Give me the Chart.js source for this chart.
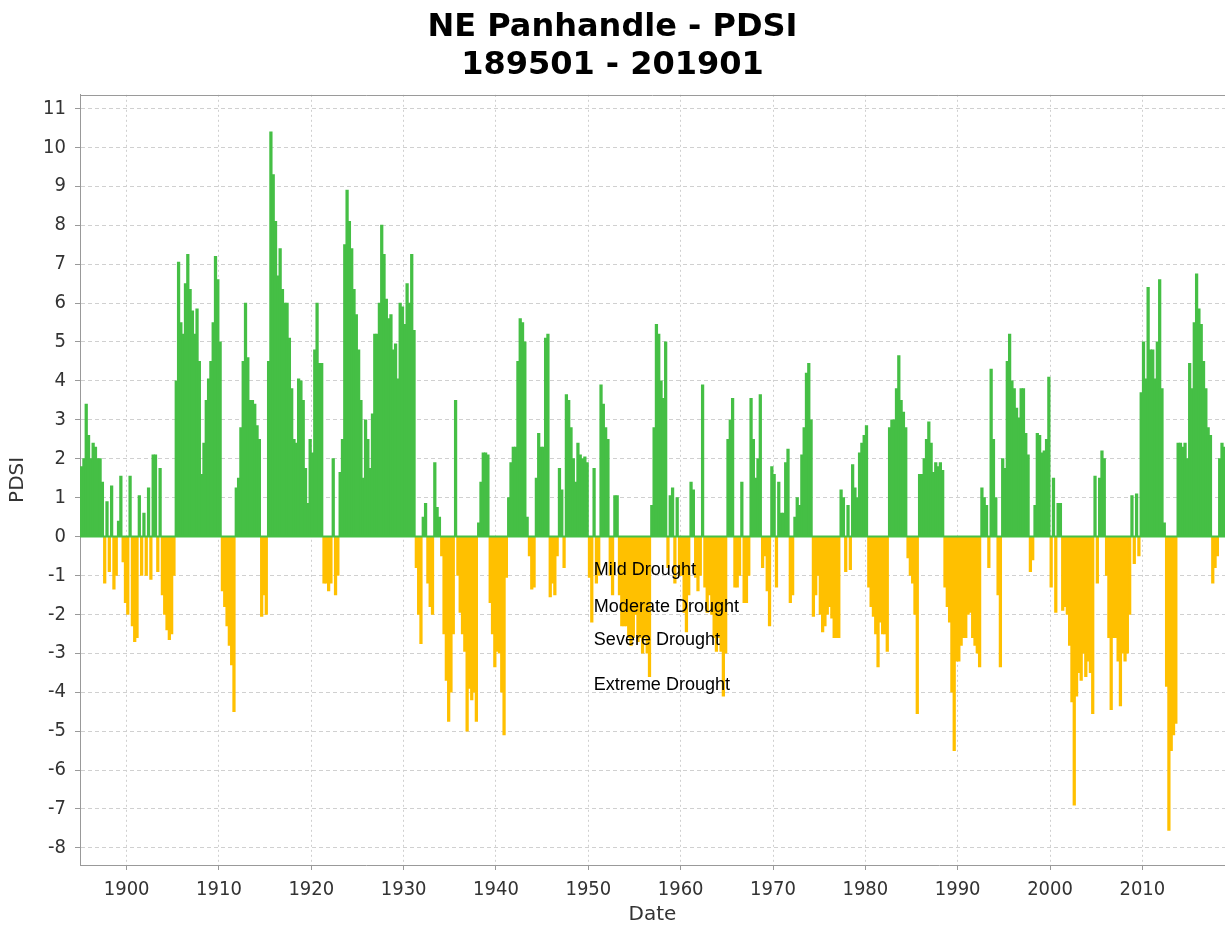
<!DOCTYPE html>
<html>
<head>
<meta charset="utf-8">
<title>NE Panhandle - PDSI</title>
<script src="https://cdn.jsdelivr.net/npm/chart.js@4.4.1/dist/chart.umd.min.js"></script>
<style>
  html, body { margin: 0; padding: 0; background: #fff; }
  #wrap { width: 1225px; height: 930px; }
</style>
</head>
<body>
<div id="wrap"><canvas id="pdsi" width="1225" height="930"></canvas></div>
<script>
const TITLE = ["NE Panhandle - PDSI", "189501 - 201901"];
const START_YEAR = 1895;
const STEP = 0.25; // one reading per quarter

// PDSI, quarterly, one array per decade
const pdsi1890s = [
  1.8, 2.0, 3.4, 2.6,   2.0, 2.4, 2.3, 2.0,   2.0, 1.4, -1.2, 0.9,
  -0.9, 1.3, -1.35, -1.0,   0.4, 1.55, -0.65, -1.7
];
const pdsi1900s = [
  -2.0, 1.55, -2.3, -2.7,   -2.6, 1.05, -1.0, 0.6,   -1.0, 1.25, -1.1, 2.1,
  2.1, -0.9, 1.75, -1.5,   -2.0, -2.4, -2.65, -2.5,   -1.0, 4.0, 7.05, 5.5,
  5.2, 6.5, 7.25, 6.35,   5.8, 5.2, 5.85, 4.5,   1.6, 2.4, 3.5, 4.05,
  4.5, 5.5, 7.2, 6.6
];
const pdsi1910s = [
  5.0, -1.4, -1.8, -2.3,   -2.8, -3.3, -4.5, 1.25,   1.5, 2.8, 4.5, 6.0,
  4.6, 3.5, 3.5, 3.4,   2.85, 2.5, -2.05, -1.5,   -2.0, 4.5, 10.4, 9.3,
  8.1, 6.7, 7.4, 6.35,   6.0, 6.0, 5.1, 3.8,   2.5, 2.4, 4.05, 4.0,
  3.5, 1.75, 0.85, 2.5
];
const pdsi1920s = [
  2.15, 4.8, 6.0, 4.45,   4.45, -1.2, -1.2, -1.4,   -1.2, 2.0, -1.5, -1.0,
  1.65, 2.5, 7.5, 8.9,   8.1, 7.4, 6.35, 5.7,   4.8, 3.5, 1.5, 3.0,
  2.5, 1.75, 3.15, 5.2,   5.2, 6.0, 8.0, 7.25,   6.1, 5.6, 5.7, 4.8,
  4.95, 4.05, 6.0, 5.9
];
const pdsi1930s = [
  5.45, 6.5, 6.0, 7.25,   5.3, -0.8, -2.0, -2.75,   0.5, 0.85, -1.2, -1.8,
  -2.0, 1.9, 0.75, 0.5,   -0.5, -2.5, -3.7, -4.75,   -4.0, -2.5, 3.5, -1.0,
  -1.95, -2.5, -2.95, -5.0,   -3.9, -4.2, -4.0, -4.75,   0.35, 1.4, 2.15, 2.15,
  2.1, -1.7, -2.5, -3.35
];
const pdsi1940s = [
  -2.95, -3.0, -4.0, -5.1,   -1.05, 1.0, 1.9, 2.3,   2.3, 4.5, 5.6, 5.5,
  5.0, 0.5, -0.5, -1.35,   -1.3, 1.5, 2.65, 2.3,   2.3, 5.1, 5.2, -1.55,
  -1.2, -1.5, -0.5, 1.75,   1.2, -0.8, 3.65, 3.5,   2.8, 2.0, 1.4, 2.4,
  2.1, 2.0, 2.05, 1.9
];
const pdsi1950s = [
  -1.05, -2.2, 1.75, -1.2,   -1.0, 3.9, 3.4, 2.8,   2.5, -1.0, -1.5, 1.05,
  1.05, -1.5, -2.3, -2.3,   -2.3, -2.6, -2.8, -2.6,   -2.0, -2.7, -2.6, -3.0,
  -2.6, -3.0, -3.6, 0.8,   2.8, 5.45, 5.2, 4.0,   3.55, 5.0, -0.8, 1.05,
  1.25, -1.2, 1.0, -1.0
];
const pdsi1960s = [
  -1.0, -1.95, -2.45, -1.5,   1.4, 1.2, -1.05, -1.4,   -1.0, 3.9, -1.3, -1.95,
  -1.5, -2.0, -2.6, -2.95,   -2.6, -2.95, -4.1, -3.0,   2.5, 3.0, 3.55, -1.3,
  -1.3, -1.0, 1.4, -1.7,   -1.7, -1.0, 3.55, 2.5,   1.5, 2.0, 3.65, -0.8,
  -0.5, -1.4, -2.3, 1.8
];
const pdsi1970s = [
  1.6, -1.3, 1.4, 0.6,   0.6, 1.9, 2.25, -1.7,   -1.5, 0.5, 1.0, 0.8,
  2.1, 2.8, 4.2, 4.45,   3.0, -2.05, -1.5, -1.0,   -2.0, -2.45, -2.3, -2.0,
  -1.8, -2.1, -2.6, -2.6,   -2.6, 1.2, 1.0, -0.9,   0.8, -0.85, 1.85, 1.25,
  1.0, 2.15, 2.4, 2.6
];
const pdsi1980s = [
  2.85, -1.3, -1.8, -2.05,   -2.5, -3.35, -2.2, -2.5,   -2.5, -2.95, 2.8, 3.0,
  3.0, 3.8, 4.65, 3.5,   3.2, 2.8, -0.55, -1.0,   -1.2, -2.0, -4.55, 1.6,
  1.6, 2.0, 2.5, 2.95,   2.4, 1.65, 1.9, 1.8,   1.9, 1.7, -1.3, -1.8,
  -2.2, -4.0, -5.5, -3.2
];
const pdsi1990s = [
  -3.2, -2.8, -2.6, -2.6,   -2.0, -1.95, -2.6, -2.8,   -3.0, -3.35, 1.25, 1.0,
  0.8, -0.8, 4.3, 2.5,   1.0, -1.5, -3.35, 2.0,   1.75, 4.5, 5.2, 4.0,
  3.8, 3.3, 3.05, 3.8,   3.8, 2.65, 2.1, -0.9,   -0.6, 0.8, 2.65, 2.6,
  2.15, 2.2, 2.5, 4.1
];
const pdsi2000s = [
  -1.3, 1.5, -1.95, 0.85,   0.85, -1.9, -1.8, -2.0,   -2.8, -4.25, -6.9, -4.1,
  -3.5, -3.7, -3.0, -3.6,   -3.2, -3.5, -4.55, 1.55,   -1.2, 1.5, 2.2, 2.0,
  -1.0, -2.6, -4.45, -2.6,   -2.6, -3.2, -4.35, -3.0,   -3.2, -3.0, -2.0, 1.05,
  -0.7, 1.1, -0.5, 3.7
];
const pdsi2010s = [
  5.0, 4.05, 6.4, 4.8,   4.8, 4.05, 5.0, 6.6,   3.8, 0.35, -3.85, -7.55,
  -5.5, -5.1, -4.8, 2.4,   2.4, 2.3, 2.4, 2.0,   4.45, 3.8, 5.5, 6.75,
  5.85, 5.45, 4.5, 3.8,   2.8, 2.6, -1.2, -0.8,   -0.5, 2.0, 2.4, 2.3,
  2.4
];

const droughtLabels = ["Mild Drought", "Moderate Drought", "Severe Drought", "Extreme Drought"];
const droughtLevels = [-0.98, -1.93, -2.79, -3.94];
const droughtLabelYear = 1950.6;

const GREEN = "#45bf45";
const YELLOW = "#ffc000";

const values = [].concat(
  pdsi1890s, pdsi1900s, pdsi1910s, pdsi1920s, pdsi1930s, pdsi1940s,
  pdsi1950s, pdsi1960s, pdsi1970s, pdsi1980s, pdsi1990s, pdsi2000s, pdsi2010s
);
const points = values.map((v, i) => ({ x: START_YEAR + i * STEP + STEP / 2, y: v }));

const tickFont = { family: "'DejaVu Sans Condensed', 'DejaVu Sans', sans-serif", size: 20 };
const axisTitleFont = { family: "'DejaVu Sans', sans-serif", size: 20 };

// zero line, top frame and the drought class labels
const overlay = {
  id: "overlay",
  afterDatasetsDraw(chart) {
    const { ctx, chartArea: a, scales: { x, y } } = chart;
    ctx.save();
    const y0 = y.getPixelForValue(0);
    ctx.strokeStyle = GREEN;
    ctx.lineWidth = 2;
    ctx.beginPath();
    ctx.moveTo(a.left, y0);
    ctx.lineTo(a.right, y0);
    ctx.stroke();

    ctx.strokeStyle = "#9a9a9a";
    ctx.lineWidth = 1;
    ctx.beginPath();
    ctx.moveTo(a.left, Math.round(a.top) + 0.5);
    ctx.lineTo(a.right, Math.round(a.top) + 0.5);
    ctx.stroke();

    ctx.fillStyle = "#000";
    ctx.font = '18px "Liberation Sans", Arial, sans-serif';
    ctx.textAlign = "left";
    ctx.textBaseline = "alphabetic";
    droughtLabels.forEach((t, i) => {
      ctx.fillText(t, x.getPixelForValue(droughtLabelYear), y.getPixelForValue(droughtLevels[i]));
    });
    ctx.restore();
  }
};

new Chart(document.getElementById("pdsi"), {
  type: "bar",
  data: {
    datasets: [{
      data: points,
      backgroundColor: (c) => (c.raw && c.raw.y < 0 ? YELLOW : GREEN),
      borderWidth: 0,
      barPercentage: 1,
      categoryPercentage: 1,
      barThickness: 2.6
    }]
  },
  options: {
    responsive: false,
    animation: false,
    devicePixelRatio: 1,
    layout: { padding: 0 },
    plugins: {
      legend: { display: false },
      tooltip: { enabled: false },
      title: {
        display: true,
        text: TITLE,
        color: "#000",
        font: { family: "'DejaVu Sans', sans-serif", size: 32, weight: "bold", lineHeight: 1.2 },
        padding: { top: 8, bottom: 10 }
      }
    },
    scales: {
      x: {
        type: "linear",
        min: 1894.95,
        max: 2018.95,
        offset: false,
        afterFit: (s) => { s.height = 65; },
        ticks: {
          stepSize: 10, includeBounds: false, autoSkip: false, maxRotation: 0,
          padding: 8, color: "#333", font: tickFont,
          callback: (v) => String(v)
        },
        grid: { color: "#cfcfcf", lineWidth: 1, tickLength: 5, tickColor: "#999", offset: false },
        border: { display: true, color: "#999", width: 1, dash: [2, 3] },
        title: { display: true, text: "Date", color: "#333", font: axisTitleFont, padding: { top: 0, bottom: 3 } }
      },
      y: {
        min: -8.44,
        max: 11.35,
        afterFit: (s) => { s.width = 80; },
        ticks: {
          stepSize: 1, includeBounds: false, autoSkip: false, maxTicksLimit: 40,
          padding: 9, color: "#333", font: tickFont,
          callback: (v) => String(v)
        },
        grid: { color: "#d0d0d0", lineWidth: 1, tickLength: 5, tickColor: "#999" },
        border: { display: true, color: "#999", width: 1, dash: [4, 3] },
        title: { display: true, text: "PDSI", color: "#333", font: axisTitleFont, padding: { top: 6, bottom: 0 } }
      }
    }
  },
  plugins: [overlay]
});
</script>
</body>
</html>
